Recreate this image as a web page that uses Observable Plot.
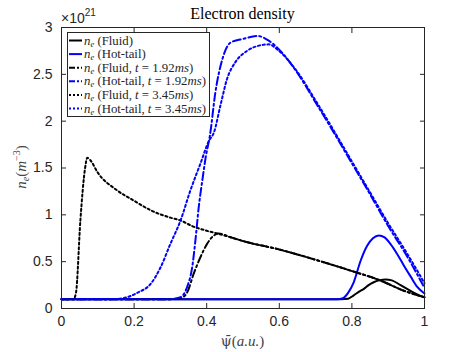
<!DOCTYPE html>
<html><head><meta charset="utf-8">
<script src="https://cdn.jsdelivr.net/npm/d3@7"></script>
<script src="https://cdn.jsdelivr.net/npm/@observablehq/plot@0.6"></script>
<style>
html,body{margin:0;padding:0;background:#fff;}
#chart{position:relative;width:469px;height:352px;}
</style></head><body><div id="chart"></div>
<script>
const xTicks = [0, 0.2, 0.4, 0.6, 0.8, 1];
const yTicks = [0, 0.5, 1, 1.5, 2, 2.5, 3];

// n_e (Fluid)
const fluidPsi = [0, 0.70, 0.77, 0.79, 0.805, 0.82, 0.833, 0.846, 0.86, 0.875, 0.893, 0.91, 0.934, 0.952, 0.97, 0.985, 1.0];
const fluidNe  = [0.1, 0.1, 0.1, 0.105, 0.14, 0.18, 0.21, 0.25, 0.28, 0.30, 0.31, 0.30, 0.25, 0.21, 0.17, 0.14, 0.12];
// n_e (Hot-tail)
const hotPsi = [0, 0.70, 0.76, 0.775, 0.79, 0.805, 0.824, 0.842, 0.858, 0.874, 0.89, 0.906, 0.925, 0.943, 0.962, 0.98, 1.0];
const hotNe  = [0.1, 0.1, 0.1, 0.11, 0.17, 0.28, 0.51, 0.67, 0.75, 0.78, 0.76, 0.69, 0.58, 0.46, 0.34, 0.23, 0.16];
// n_e (Fluid, t = 1.92ms)
const fluid192Psi = [0, 0.30, 0.328, 0.346, 0.364, 0.383, 0.401, 0.42, 0.433, 0.466, 0.5, 0.6, 0.7, 0.8, 0.878, 0.943, 1.0];
const fluid192Ne  = [0.1, 0.1, 0.11, 0.17, 0.37, 0.55, 0.69, 0.78, 0.80, 0.76, 0.72, 0.63, 0.52, 0.40, 0.30, 0.19, 0.12];
// n_e (Hot-tail, t = 1.92ms)
const hot192Psi = [0, 0.30, 0.328, 0.346, 0.36, 0.369, 0.378, 0.388, 0.397, 0.409, 0.424, 0.443, 0.466, 0.502, 0.539, 0.571, 0.603, 0.649, 0.70, 0.75, 0.80, 0.85, 0.90, 0.95, 1.0];
const hot192Ne  = [0.1, 0.1, 0.12, 0.23, 0.44, 0.73, 1.08, 1.37, 1.61, 1.85, 2.31, 2.66, 2.84, 2.88, 2.91, 2.86, 2.75, 2.52, 2.20, 1.88, 1.55, 1.22, 0.88, 0.57, 0.22];
// n_e (Fluid, t = 3.45ms)
const fluid345Psi = [0, 0.033, 0.04, 0.052, 0.065, 0.071, 0.08, 0.1, 0.15, 0.2, 0.245, 0.3, 0.328, 0.36, 0.4, 0.43, 0.466, 0.5, 0.6, 0.7, 0.8, 0.878, 0.943, 1.0];
const fluid345Ne  = [0.1, 0.1, 0.17, 0.94, 1.50, 1.61, 1.58, 1.45, 1.27, 1.15, 1.05, 0.97, 0.94, 0.88, 0.83, 0.80, 0.76, 0.72, 0.63, 0.52, 0.40, 0.30, 0.19, 0.12];
// n_e (Hot-tail, t = 3.45ms)
const hot345Psi = [0, 0.14, 0.18, 0.21, 0.245, 0.273, 0.30, 0.328, 0.355, 0.383, 0.406, 0.42, 0.438, 0.456, 0.479, 0.511, 0.548, 0.571, 0.599, 0.649, 0.70, 0.75, 0.80, 0.85, 0.90, 0.95, 1.0];
const hot345Ne  = [0.1, 0.1, 0.12, 0.17, 0.26, 0.44, 0.69, 0.94, 1.26, 1.55, 1.79, 1.88, 2.17, 2.45, 2.63, 2.75, 2.81, 2.82, 2.75, 2.53, 2.22, 1.90, 1.57, 1.24, 0.91, 0.60, 0.27];

const seriesLabels = [
  ["(Fluid)"],
  ["(Hot-tail)"],
  ["(Fluid, ", "t", " = 1.92", "ms", ")"],
  ["(Hot-tail, ", "t", " = 1.92", "ms", ")"],
  ["(Fluid, ", "t", " = 3.45", "ms", ")"],
  ["(Hot-tail, ", "t", " = 3.45", "ms", ")"]
];
const seriesPsi = [fluidPsi, hotPsi, fluid192Psi, hot192Psi, fluid345Psi, hot345Psi];
const seriesNe = [fluidNe, hotNe, fluid192Ne, hot192Ne, fluid345Ne, hot345Ne];
const seriesColor = ["#000000", "#0000ff", "#000000", "#0000ff", "#000000", "#0000ff"];
const seriesDash = [null, null, "8,3,2,3", "8,3,2,3", "2.2,2.6", "2.2,2.6"];

const series = seriesPsi.map((p, i) => p.map((x, j) => ({psi: x, ne: seriesNe[i][j]})));

const axisColor = "#262626";
const fmt = d => String(d);

const svg = Plot.plot({
  width: 469, height: 352,
  marginLeft: 61, marginRight: 45, marginTop: 27, marginBottom: 44,
  x: {domain: [0, 1]},
  y: {domain: [0, 3]},
  style: {fontFamily: "'Liberation Sans', Arial, sans-serif", fontSize: "14px", color: axisColor, background: "#fff"},
  marks: [
    ...series.map((d, i) => Plot.line(d, {x: "psi", y: "ne", stroke: seriesColor[i], strokeWidth: 2, strokeDasharray: seriesDash[i], curve: "monotone-x"})),
    Plot.frame({stroke: axisColor, strokeWidth: 1}),
    Plot.axisX(xTicks, {anchor: "bottom", tickSize: -5, tickPadding: 13, tickFormat: fmt, label: null, stroke: axisColor, fill: axisColor}),
    Plot.axisX(xTicks, {anchor: "top", tickSize: -5, tickFormat: () => "", label: null, stroke: axisColor}),
    Plot.axisY(yTicks, {anchor: "left", tickSize: -5, tickPadding: 14, tickFormat: fmt, label: null, stroke: axisColor, fill: axisColor}),
    Plot.axisY(yTicks, {anchor: "right", tickSize: -5, tickFormat: () => "", label: null, stroke: axisColor})
  ]
});
document.getElementById("chart").appendChild(svg);

const s = d3.select(svg);
const serif = "'Liberation Serif', 'DejaVu Serif', serif";

// title
s.append("text").attr("x", 242.5).attr("y", 19).attr("text-anchor", "middle")
  .attr("font-family", serif).attr("font-size", 16).attr("fill", "#000").text("Electron density");

// exponent
const ex = s.append("text").attr("x", 61).attr("y", 23).attr("text-anchor", "start")
  .attr("font-family", "'Liberation Sans', Arial, sans-serif")
  .attr("font-size", 14).attr("fill", axisColor);
ex.append("tspan").text("×10");
ex.append("tspan").attr("font-size", 10).attr("dy", -7).text("21");

// x label
const xl = s.append("text").attr("x", 242.5).attr("y", 346).attr("text-anchor", "middle")
  .attr("font-family", serif).attr("font-size", 15).attr("fill", "#444");
xl.append("tspan").attr("font-family", "'DejaVu Serif', serif").attr("font-size", 14).text("ψ\u0304");
xl.append("tspan").text("(");
xl.append("tspan").attr("font-style", "italic").text("a.u.");
xl.append("tspan").text(")");

// y label
const yl = s.append("text").attr("transform", "translate(26,167) rotate(-90)").attr("text-anchor", "middle")
  .attr("font-family", serif).attr("font-size", 15).attr("fill", "#444");
yl.append("tspan").attr("font-style", "italic").text("n");
yl.append("tspan").attr("font-style", "italic").attr("font-size", 10).attr("dy", 3).text("e");
yl.append("tspan").attr("dy", -3).text("(");
yl.append("tspan").attr("font-style", "italic").text("m");
yl.append("tspan").attr("font-size", 10).attr("dy", -6).text("−3");
yl.append("tspan").attr("dy", 6).text(")");

// legend
const lg = s.append("g");
lg.append("rect").attr("x", 67.5).attr("y", 32.5).attr("width", 142).attr("height", 84)
  .attr("fill", "#fff").attr("stroke", axisColor).attr("stroke-width", 1);
seriesLabels.forEach((parts, i) => {
  const y = 40.5 + i * 13.6;
  lg.append("line").attr("x1", 69).attr("x2", 82).attr("y1", y).attr("y2", y)
    .attr("stroke", seriesColor[i]).attr("stroke-width", 2)
    .attr("stroke-dasharray", seriesDash[i] ? (i < 4 ? "6,2,2,2" : "2,2") : null);
  const t = lg.append("text").attr("x", 84).attr("y", y + 4).attr("text-anchor", "start")
    .attr("font-family", serif).attr("font-size", 12.8).attr("fill", axisColor);
  t.append("tspan").attr("font-style", "italic").text("n");
  t.append("tspan").attr("font-style", "italic").attr("font-size", 8.5).attr("dy", 2).text("e");
  t.append("tspan").attr("dy", -2).text("\u00a0");
  parts.forEach((p, k) => {
    const sp = t.append("tspan").text(p);
    if (p === "t" || p === "ms") sp.attr("font-style", "italic");
  });
});
</script></body></html>
